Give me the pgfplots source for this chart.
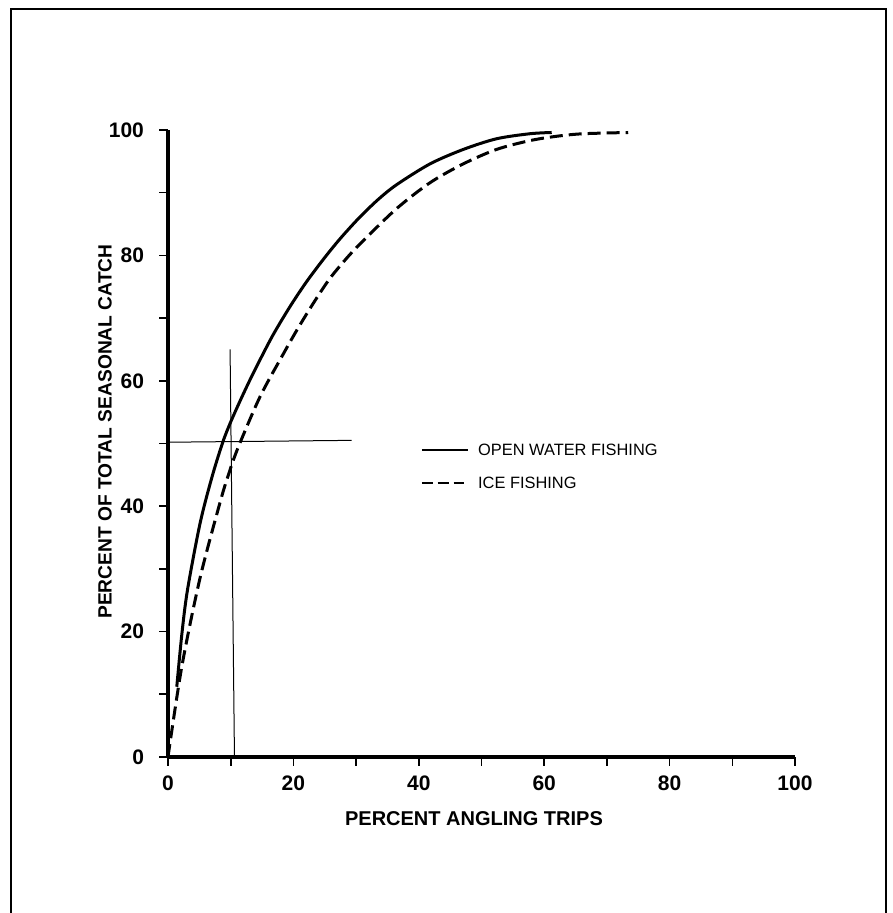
\documentclass[border=0pt]{standalone}
\usepackage{fontspec}
\setmainfont{Liberation Sans}
\usepackage{pgfplots}
\pgfplotsset{compat=1.18}
\begin{document}
\begin{tikzpicture}
\useasboundingbox (-84pt,-78pt) rectangle (362pt,378.5pt);
\begin{axis}[
  at={(0pt,0pt)}, anchor=south west,
  scale only axis, width=313.5pt, height=313.5pt,
  xmin=0, xmax=100, ymin=0, ymax=100,
  axis lines=left,
  axis line style={-, line width=2.4pt},
  xtick={0,20,...,100}, ytick={0,20,...,100},
  minor xtick={10,30,...,90}, minor ytick={10,30,...,90},
  tick align=outside,
  major tick length=4.5pt, minor tick length=4.5pt,
  tick style={black, line width=0.8pt},
  /pgf/number format/assume math mode=true,
  xticklabel style={font=\bfseries\fontsize{10.5}{12}\selectfont, anchor=center, yshift=-8.8pt},
  yticklabel style={font=\bfseries\fontsize{10.5}{12}\selectfont, anchor=east, xshift=-4pt},
  every axis x label/.style={at={(axis description cs:0.488,-0.0989)}, anchor=center, font=\bfseries\fontsize{10}{12}\selectfont},
  every axis y label/.style={at={(axis description cs:-0.1005,0.519)}, rotate=90, anchor=center, font=\bfseries\fontsize{9.6}{12}\selectfont},
  xlabel={PERCENT ANGLING TRIPS},
  ylabel={PERCENT OF TOTAL SEASONAL CATCH},
  clip=false,
]
% open water fishing
\addplot[black, line width=1.5pt, smooth, tension=0.5] coordinates {
(1.4,11.2) (2.2,19.5) (3.1,26.6) (5.1,37.2) (7.0,44.6) (8.7,50.1) (9.9,53.2) (11.5,56.8) (13.1,60.2) (14.7,63.4) (16.8,67.4) (19.5,71.9) (22.1,75.8) (24.8,79.4) (27.4,82.6) (30.4,85.9) (33.5,88.9) (36.5,91.3) (41.8,94.6) (47.1,96.9) (52.4,98.6) (57.7,99.4) (61.2,99.6)
};
% ice fishing
\addplot[black, line width=1.5pt, dash pattern=on 6.5pt off 3pt, smooth, tension=0.5] coordinates {
(0,0) (2.2,14.4) (5.1,28.5) (8.3,40.6) (9.7,45.2) (11.2,49.4) (14.7,57.5) (18.4,64.3) (20.8,68.5) (23.2,72.4) (25.8,76.3) (28.8,79.9) (31.4,82.6) (36.5,87.5) (41.8,91.6) (47.1,94.6) (52.4,96.9) (57.7,98.3) (62.0,99.0) (66.2,99.4) (73.4,99.6)
};
% reference lines
\addplot[black, line width=0.5pt] coordinates {(10.6,0) (9.9,65)};
\addplot[black, line width=0.5pt] coordinates {(0,50.2) (29.3,50.5)};
% legend
\addplot[black, line width=1.1pt] coordinates {(40.5,49.0) (47.9,49.0)};
\addplot[black, line width=1.1pt, dash pattern=on 5.4pt off 2.5pt] coordinates {(40.5,43.7) (47.3,43.7)};
\node[anchor=west, inner sep=0pt, font=\fontsize{8.2}{10}\selectfont] at (axis cs:49.4,49.0) {OPEN WATER FISHING};
\node[anchor=west, inner sep=0pt, font=\fontsize{8.2}{10}\selectfont] at (axis cs:49.4,43.7) {ICE FISHING};
\end{axis}
\draw[line width=1pt] (-78.5pt,-78pt) -- (-78.5pt,374pt) -- (359pt,374pt) -- (359pt,-78pt);
\end{tikzpicture}
\end{document}
